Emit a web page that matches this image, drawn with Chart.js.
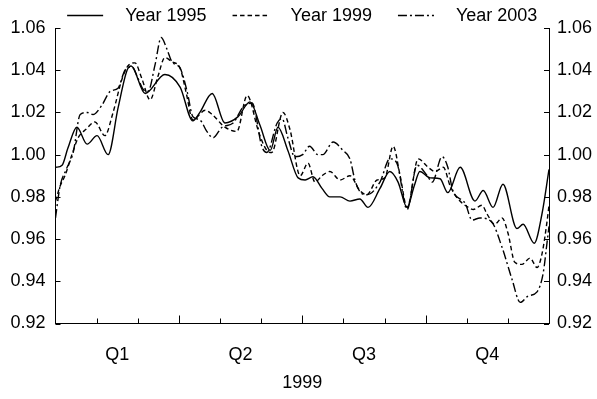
<!DOCTYPE html>
<html>
<head>
<meta charset="utf-8">
<script src="https://cdn.jsdelivr.net/npm/chart.js@4.4.1/dist/chart.umd.min.js"></script>
<style>
  html, body { margin: 0; padding: 0; background: #fff; }
  #wrap { width: 597px; height: 399px; position: relative; }
</style>
</head>
<body>
<div id="wrap"><canvas id="c" width="597" height="399"></canvas></div>
<script>
// ---- Data (x in months from start of 1999, 0..12) ----
const seriesLabels = ['Year 1995', 'Year 1999', 'Year 2003'];
const quarterLabels = ['Q1', 'Q2', 'Q3', 'Q4'];
const quarterCentres = [1.5, 4.5, 7.5, 10.5];
const xAxisTitle = '1999';

const x1995 = [0, 0.16, 0.30, 0.52, 0.77, 1.01, 1.28, 1.52, 1.74, 1.84,
  2.18, 2.66, 3.03, 3.34, 3.51, 3.81, 4.12, 4.44, 4.73, 4.97,
  5.22, 5.41, 5.65, 5.90, 6.07, 6.26, 6.48, 6.67, 6.92, 7.16,
  7.40, 7.60, 7.89, 8.13, 8.33, 8.55, 8.72, 8.86, 9.11, 9.35,
  9.54, 9.84, 10.20, 10.40, 10.64, 10.88, 11.22, 11.37, 11.64, 11.83, 12];
const y1995 = [0.994, 0.995, 1.003, 1.013, 1.005, 1.009, 1.000, 1.022, 1.040, 1.042,
  1.029, 1.038, 1.032, 1.016, 1.020, 1.029, 1.015, 1.018, 1.025, 1.014,
  1.002, 1.013, 1.002, 0.989, 0.988, 0.9895, 0.984, 0.980, 0.980, 0.978,
  0.979, 0.975, 0.984, 0.992, 0.987, 0.975, 0.985, 0.992, 0.989, 0.9886,
  0.982, 0.994, 0.978, 0.983, 0.975, 0.986, 0.965, 0.967, 0.958, 0.972, 0.993];

const x1999 = [0, 0.11, 0.23, 0.40, 0.55, 0.74, 0.96, 1.20, 1.40, 1.62,
  1.76, 1.93, 2.10, 2.30, 2.49, 2.66, 2.83, 3.03, 3.17, 3.34,
  3.64, 3.81, 4.12, 4.41, 4.66, 4.73, 4.92, 5.14, 5.26, 5.53,
  5.70, 5.95, 6.14, 6.31, 6.48, 6.67, 6.92, 7.16, 7.40, 7.57,
  7.82, 8.01, 8.21, 8.38, 8.55, 8.82, 9.06, 9.23, 9.43, 9.60,
  9.79, 10.04, 10.16, 10.37, 10.49, 10.68, 10.86, 11.00, 11.17, 11.34,
  11.54, 11.71, 11.83, 11.95, 12];
const y1999 = [0.978, 0.985, 0.990, 1.000, 1.008, 1.012, 1.0155, 1.009, 1.020, 1.036,
  1.042, 1.0435, 1.036, 1.026, 1.037, 1.046, 1.044, 1.041, 1.030, 1.0165,
  1.021, 1.019, 1.013, 1.011, 1.028, 1.026, 1.012, 1.002, 1.001, 1.020,
  1.012, 0.990, 0.996, 0.987, 0.990, 0.992, 0.988, 0.990, 0.983, 0.981,
  0.988, 0.989, 1.004, 0.990, 0.975, 0.998, 0.994, 0.992, 0.994, 0.985,
  0.979, 0.975, 0.974, 0.976, 0.972, 0.967, 0.970, 0.963, 0.949, 0.948,
  0.951, 0.9465, 0.953, 0.968, 0.976];

const x2003 = [0, 0.11, 0.26, 0.43, 0.60, 0.77, 0.91, 1.13, 1.33, 1.52,
  1.69, 1.86, 2.01, 2.13, 2.25, 2.42, 2.57, 2.71, 2.83, 3.03,
  3.20, 3.34, 3.51, 3.68, 3.83, 4.05, 4.32, 4.56, 4.78, 5.02,
  5.14, 5.39, 5.51, 5.65, 5.82, 6.01, 6.18, 6.38, 6.50, 6.75,
  6.99, 7.16, 7.28, 7.40, 7.57, 7.89, 8.13, 8.30, 8.55, 8.79,
  9.04, 9.16, 9.40, 9.54, 9.66, 9.96, 10.13, 10.32, 10.61, 10.86,
  11.10, 11.30, 11.49, 11.71, 11.86, 11.95, 12];
const y2003 = [0.970, 0.985, 0.993, 1.001, 1.019, 1.020, 1.019, 1.0235, 1.030, 1.0315,
  1.040, 1.0415, 1.036, 1.031, 1.030, 1.0425, 1.0555, 1.050, 1.044, 1.041,
  1.030, 1.018, 1.0165, 1.011, 1.008, 1.013, 1.015, 1.0225, 1.0245, 1.0037,
  1.001, 1.015, 1.017, 1.008, 0.999, 1.000, 1.004, 1.000, 1.000, 1.006,
  1.002, 0.998, 0.988, 0.9825, 0.981, 0.987, 0.998, 0.996, 0.974, 0.995,
  0.990, 0.987, 0.999, 0.994, 0.983, 0.977, 0.969, 0.970, 0.968, 0.956,
  0.941, 0.930, 0.933, 0.935, 0.944, 0.958, 0.966];

const yMin = 0.92, yMax = 1.06, yStep = 0.02;
const monthBoundaries = [0,1,2,3,4,5,6,7,8,9,10,11,12];

const pts = (xs, ys) => xs.map((x, i) => ({x: x, y: ys[i]}));

const FONT = '"Liberation Sans", Arial, Helvetica, sans-serif';
Chart.defaults.font.family = FONT;
Chart.defaults.font.size = 18;
Chart.defaults.color = '#000';

// inward tick marks drawn from the library's scales
const tickPlugin = {
  id: 'inwardTicks',
  afterDraw(chart) {
    const ctx = chart.ctx, ys = chart.scales.y, xs = chart.scales.x;
    const a = chart.chartArea;
    ctx.save();
    ctx.strokeStyle = '#000';
    ctx.lineWidth = 1;
    ctx.beginPath();
    for (let v = yMin; v <= yMax + 1e-9; v += yStep) {
      const py = Math.round(ys.getPixelForValue(v)) + 0.5;
      ctx.moveTo(a.left, py); ctx.lineTo(a.left + 5, py);
      ctx.moveTo(a.right, py); ctx.lineTo(a.right - 5, py);
    }
    monthBoundaries.forEach(m => {
      if (m === 0 || m === 12) return;
      const px = Math.round(xs.getPixelForValue(m)) + 0.5;
      const len = (m % 3 === 0) ? 8 : 5;
      ctx.moveTo(px, a.bottom); ctx.lineTo(px, a.bottom - len);
    });
    ctx.stroke();
    ctx.restore();
  }
};

// legend drawn across the top
const legendPlugin = {
  id: 'topLegend',
  afterDraw(chart) {
    const ctx = chart.ctx;
    ctx.save();
    ctx.font = '18px ' + FONT;
    ctx.fillStyle = '#000';
    ctx.textBaseline = 'middle';
    const lineLen = 36, gapLT = 22, gapTL = 26;
    const items = chart.data.datasets.map(ds => ({ds: ds, w: ctx.measureText(ds.label).width}));
    const total = items.reduce((s, it) => s + lineLen + gapLT + it.w, 0) + gapTL * (items.length - 1);
    let x = (chart.chartArea.left + chart.chartArea.right) / 2 - total / 2;
    const y = 15;
    items.forEach(it => {
      ctx.strokeStyle = '#000';
      ctx.lineWidth = it.ds.borderWidth;
      ctx.setLineDash(it.ds.borderDash || []);
      ctx.beginPath();
      ctx.moveTo(x, y + 0.5); ctx.lineTo(x + lineLen, y + 0.5);
      ctx.stroke();
      ctx.setLineDash([]);
      x += lineLen + gapLT;
      ctx.fillText(it.ds.label, x, y + 1);
      x += it.w + gapTL;
    });
    ctx.restore();
  }
};

const common = {
  borderColor: '#000',
  borderWidth: 1.4,
  pointRadius: 0,
  fill: false,
  cubicInterpolationMode: 'monotone'
};

new Chart(document.getElementById('c'), {
  type: 'line',
  data: {
    datasets: [
      Object.assign({label: seriesLabels[0], data: pts(x1995, y1995), borderDash: []}, common),
      Object.assign({label: seriesLabels[1], data: pts(x1999, y1999), borderDash: [4.5, 3]}, common),
      Object.assign({label: seriesLabels[2], data: pts(x2003, y2003), borderDash: [9, 3, 2, 3]}, common)
    ]
  },
  options: {
    responsive: false,
    animation: false,
    events: [],
    layout: { padding: { top: 28, left: 10, right: 5, bottom: 0 } },
    plugins: { legend: { display: false }, tooltip: { enabled: false } },
    scales: {
      x: {
        type: 'linear', min: 0, max: 12,
        grid: { display: true, drawOnChartArea: false, drawTicks: false },
        border: { display: true, color: '#000', width: 1 },
        afterBuildTicks: s => { s.ticks = quarterCentres.map(v => ({value: v})); },
        afterFit: s => { s.height = 75.5; s.paddingLeft = 0; s.paddingRight = 0; },
        ticks: {
          autoSkip: false, maxRotation: 0, padding: 21,
          callback: (v, i) => quarterLabels[i]
        },
        title: { display: true, text: xAxisTitle, padding: { top: 6, bottom: 5 } }
      },
      y: {
        position: 'left', min: yMin, max: yMax,
        grid: { display: true, drawOnChartArea: false, drawTicks: false },
        border: { display: true, color: '#000', width: 1 },
        afterFit: s => { s.width = 45.5; s.paddingTop = 0; s.paddingBottom = 0; },
        ticks: { stepSize: yStep, padding: 10, callback: v => v.toFixed(2) }
      },
      y2: {
        position: 'right', min: yMin, max: yMax,
        grid: { display: true, drawOnChartArea: false, drawTicks: false },
        border: { display: true, color: '#000', width: 1 },
        afterFit: s => { s.width = 43; s.paddingTop = 0; s.paddingBottom = 0; },
        ticks: { stepSize: yStep, padding: 8, callback: v => v.toFixed(2) }
      }
    }
  },
  plugins: [tickPlugin, legendPlugin]
});
</script>
</body>
</html>
